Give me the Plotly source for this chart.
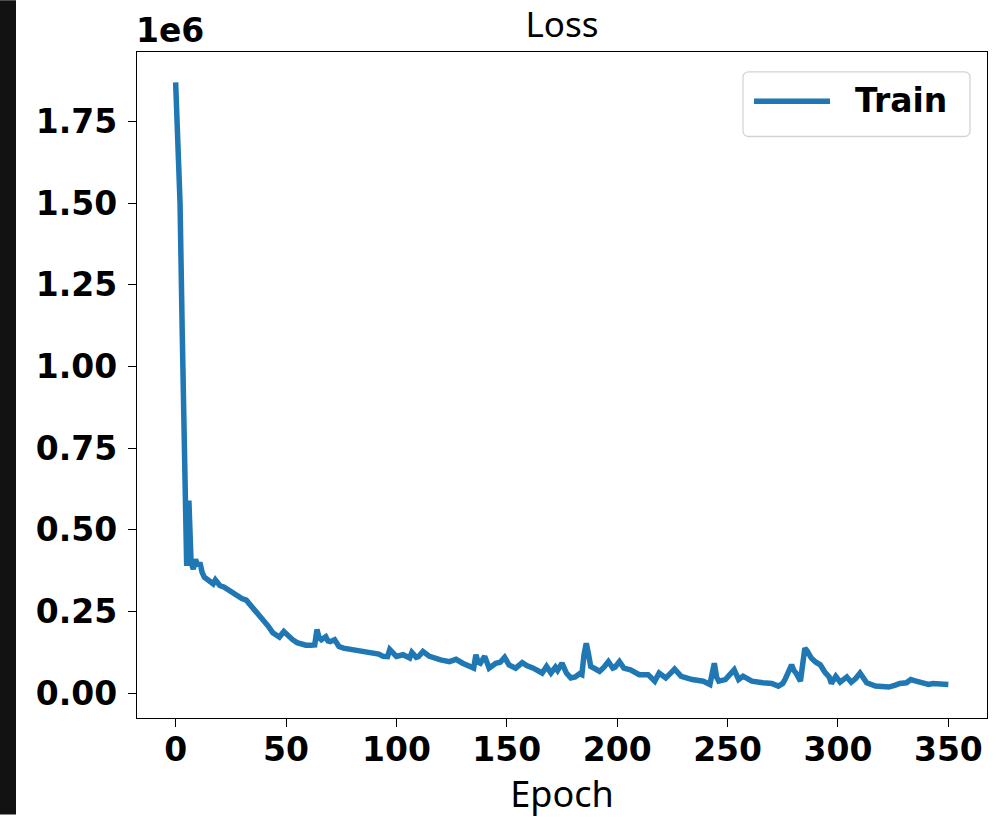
import plotly.graph_objects as go

# Training loss (values in units of 1e6)
epochs = [0, 1, 2, 3, 4, 5, 6, 7, 8, 9, 10, 11, 12, 13, 15, 17, 18, 20, 22, 25,
          28, 30, 32, 34, 36, 38, 40, 42, 44, 46, 47, 49, 51, 53, 55, 57, 59, 61, 63, 64,
          65, 66, 68, 69, 70, 72, 74, 76, 79, 83, 86, 89, 92, 94, 96, 97, 99, 100, 103, 105,
          106, 107, 109, 110, 112, 115, 117, 120, 124, 127, 130, 132, 135, 136, 137, 138, 140, 142, 145, 147,
          149, 151, 154, 157, 159, 162, 164, 166, 168, 170, 172, 173, 175, 177, 179, 181, 183, 184, 185, 186,
          187, 188, 190, 192, 194, 196, 198, 199, 201, 203, 206, 208, 210, 214, 217, 219, 222, 224, 226, 229,
          232, 234, 239, 242, 243, 244, 245, 246, 249, 251, 253, 255, 257, 259, 261, 266, 270, 273, 275, 276,
          278, 279, 280, 281, 283, 284, 285, 286, 288, 290, 292, 294, 296, 297, 299, 301, 304, 306, 308, 310,
          313, 317, 320, 323, 326, 328, 331, 333, 335, 337, 339, 341, 343, 346, 348, 350]
loss_1e6 = [1.87, 1.70, 1.50, 1.10, 0.70, 0.39, 0.59, 0.40, 0.38, 0.41, 0.39, 0.40, 0.37, 0.355, 0.345, 0.335, 0.347, 0.33, 0.325, 0.31,
            0.30, 0.29, 0.285, 0.27, 0.255, 0.24, 0.225, 0.205, 0.185, 0.175, 0.172, 0.189, 0.175, 0.164, 0.155, 0.150, 0.147, 0.147, 0.148, 0.195,
            0.17, 0.164, 0.173, 0.16, 0.158, 0.164, 0.143, 0.138, 0.134, 0.131, 0.126, 0.124, 0.12, 0.113, 0.112, 0.134, 0.118, 0.113, 0.118, 0.11,
            0.108, 0.125, 0.11, 0.112, 0.128, 0.113, 0.108, 0.102, 0.097, 0.104, 0.092, 0.087, 0.077, 0.118, 0.095, 0.092, 0.113, 0.077, 0.092, 0.095,
            0.110, 0.087, 0.077, 0.094, 0.085, 0.077, 0.07, 0.062, 0.082, 0.062, 0.080, 0.07, 0.092, 0.062, 0.047, 0.05, 0.06, 0.057, 0.12, 0.153,
            0.12, 0.082, 0.075, 0.067, 0.08, 0.097, 0.077, 0.08, 0.097, 0.077, 0.072, 0.065, 0.057, 0.057, 0.037, 0.062, 0.047, 0.06, 0.074, 0.052,
            0.045, 0.042, 0.037, 0.027, 0.06, 0.092, 0.05, 0.037, 0.042, 0.055, 0.072, 0.042, 0.052, 0.045, 0.037, 0.032, 0.030, 0.022, 0.03, 0.042,
            0.08, 0.087, 0.07, 0.062, 0.037, 0.09, 0.138, 0.13, 0.107, 0.095, 0.087, 0.065, 0.05, 0.030, 0.052, 0.034, 0.050, 0.034, 0.045, 0.062,
            0.032, 0.022, 0.02, 0.019, 0.025, 0.030, 0.032, 0.042, 0.038, 0.034, 0.032, 0.027, 0.03, 0.030, 0.027, 0.027]

loss = [v * 1e6 for v in loss_1e6]

x_ticks = [0, 50, 100, 150, 200, 250, 300, 350]
y_tick_vals = [0.0, 0.25e6, 0.5e6, 0.75e6, 1.0e6, 1.25e6, 1.5e6, 1.75e6]
y_tick_text = ["0.00", "0.25", "0.50", "0.75", "1.00", "1.25", "1.50", "1.75"]
series_name = "Train"

W, H = 1007, 819
L, R, T, B = 137, 20, 52, 97
pw, ph = W - L - R, H - T - B


def px_x(p):
    return (p - L) / pw


def px_y(p):
    return 1 - (p - T) / ph


tick_font = dict(family="DejaVu Sans", size=33, color="black", weight="bold")
line_color = "#1f77b4"

fig = go.Figure()
fig.add_trace(go.Scatter(
    x=epochs, y=loss, mode="lines", name=series_name, showlegend=False,
    line=dict(color=line_color, width=5.5),
))

axis_common = dict(
    showline=True, linecolor="black", linewidth=1.3, mirror=True,
    ticks="outside", ticklen=8, tickwidth=1.3, tickcolor="black",
    showgrid=False, zeroline=False, tickfont=tick_font,
)

# legend box (rounded) drawn in paper coordinates
bx0, bx1, by0, by1 = px_x(743), px_x(970), px_y(137), px_y(72)
rx, ry = 6 / pw, 6 / ph
box_path = (f"M{bx0 + rx},{by0} L{bx1 - rx},{by0} Q{bx1},{by0} {bx1},{by0 + ry} "
            f"L{bx1},{by1 - ry} Q{bx1},{by1} {bx1 - rx},{by1} "
            f"L{bx0 + rx},{by1} Q{bx0},{by1} {bx0},{by1 - ry} "
            f"L{bx0},{by0 + ry} Q{bx0},{by0} {bx0 + rx},{by0} Z")

fig.update_layout(
    width=W, height=H,
    margin=dict(l=L, r=R, t=T, b=B),
    paper_bgcolor="white", plot_bgcolor="white",
    title=dict(text="Loss", x=(L + pw / 2) / W, xanchor="center",
               y=1 - 25 / H, yanchor="middle", yref="container",
               font=dict(family="Noto Sans", size=35, color="black")),
    xaxis=dict(range=[-17.5, 367.5], tickvals=x_ticks, ticklabelstandoff=-6,
               title=dict(text="Epoch", font=dict(family="Noto Sans", size=36, color="black"), standoff=13),
               **axis_common),
    yaxis=dict(range=[-0.0757e6, 1.963e6], tickvals=y_tick_vals, ticktext=y_tick_text,
               ticklabelstandoff=4, **axis_common),
    showlegend=False,
    annotations=[
        dict(text="1e6", xref="paper", yref="paper", x=-3 / pw, y=px_y(30),
             xanchor="left", yanchor="middle", showarrow=False,
             font=dict(family="DejaVu Sans", size=33, color="black", weight="bold")),
        dict(text=series_name, xref="paper", yref="paper", x=px_x(853), y=px_y(101),
             xanchor="left", yanchor="middle", showarrow=False,
             font=dict(family="DejaVu Sans", size=33, color="black", weight="bold")),
    ],
    shapes=[
        dict(type="rect", xref="paper", yref="paper",
             x0=-L / pw, x1=(16 - L) / pw, y0=-B / ph, y1=1 + T / ph,
             fillcolor="#121212", line=dict(width=0), layer="above"),
        dict(type="path", xref="paper", yref="paper", path=box_path,
             fillcolor="white", line=dict(color="#d4d4d4", width=1.3), layer="above"),
        dict(type="line", xref="paper", yref="paper",
             x0=px_x(754), x1=px_x(830), y0=px_y(101.5), y1=px_y(101.5),
             line=dict(color=line_color, width=5.5), layer="above"),
    ],
)

fig.write_html("out.html", config={"displayModeBar": False},
               post_script="document.body.style.margin='0';")
